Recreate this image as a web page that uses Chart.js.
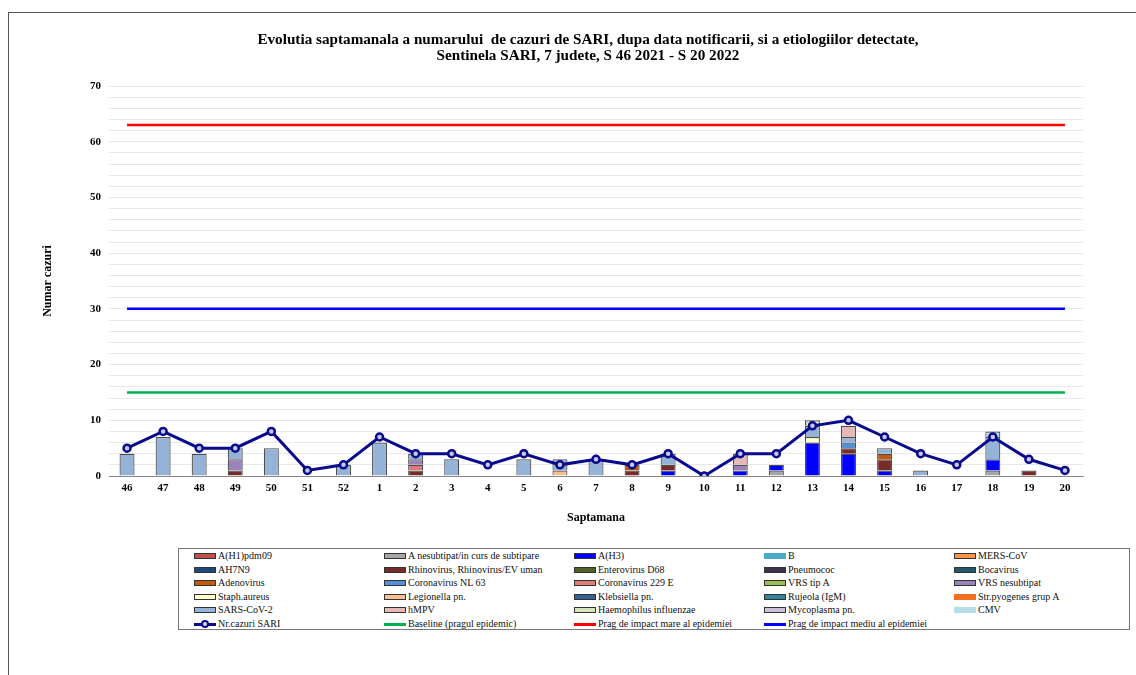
<!DOCTYPE html>
<html lang="ro">
<head>
<meta charset="UTF-8">
<title>SARI - evolutie saptamanala</title>
<script src="https://cdn.jsdelivr.net/npm/chart.js@4.4.0/dist/chart.umd.min.js"></script>
<style>
  body { margin: 0; background: #fff; font-family: "Liberation Serif", "Times New Roman", serif; }
  #frame { position: absolute; left: 8px; top: 12px; width: 1140px; height: 700px; border: 1px solid #555; }
  #title { position: absolute; left: 0; top: 31px; width: 1176px; text-align: center; font-size: 15.2px; font-weight: bold; line-height: 16.3px; color: #000; }
  #wrap { position: absolute; left: 0; top: 0; width: 1136px; height: 540px; }
  #legend { position: absolute; left: 178px; top: 548px; width: 952px; height: 82px; border: 1px solid #777; box-sizing: border-box; }
  .item { position: absolute; font-size: 10px; line-height: 12px; white-space: nowrap; color: #111; }
  .sw { position: absolute; left: 0; top: 3px; width: 20px; height: 4px; border: 1px solid #333; }
  .ln { position: absolute; left: 0; top: 5px; width: 22px; height: 3px; }
  .dot { position: absolute; left: 7px; top: 2px; width: 4px; height: 4px; border: 2px solid #0a0a8c; border-radius: 50%; background: #dde; }
  .tx { position: absolute; left: 24px; top: 0; }
</style>
</head>
<body>
<div id="frame"></div>
<div id="wrap"><canvas id="canvas"></canvas></div>
<div id="title">Evolutia saptamanala a numarului&nbsp; de cazuri de SARI, dupa data notificarii, si a etiologiilor detectate,<br>Sentinela SARI, 7 judete, S 46 2021 - S 20 2022</div>
<div id="legend"></div>
<script>
// saptamani S46 2021 - S20 2022
const weeks = ['46','47','48','49','50','51','52','1','2','3','4','5','6','7','8','9','10','11','12','13','14','15','16','17','18','19','20'];

// numar total cazuri SARI (linia)
const nrCazuriSari = [5,8,5,5,8,1,2,7,4,4,2,4,2,3,2,4,0,4,4,9,10,7,4,2,7,3,1];

// praguri
const baseline    = [15,15,15,15,15,15,15,15,15,15,15,15,15,15,15,15,15,15,15,15,15,15,15,15,15,15,15];
const pragMare    = [63,63,63,63,63,63,63,63,63,63,63,63,63,63,63,63,63,63,63,63,63,63,63,63,63,63,63];
const pragMediu   = [30,30,30,30,30,30,30,30,30,30,30,30,30,30,30,30,30,30,30,30,30,30,30,30,30,30,30];

// etiologii detectate
const aH1pdm09        = [0,0,0,0,0,0,0,0,0,0,0,0,0,0,0,0,0,0,0,0,0,0,0,0,0,0,0];
const aNesubtipat     = [0,0,0,0,0,0,0,0,0,0,0,0,0,0,0,0,0,0,1,0,0,0,0,0,1,0,0];
const aH3             = [0,0,0,0,0,0,0,0,0,0,0,0,0,0,0,1,0,1,1,6,4,1,0,0,2,0,0];
const gripaB          = [0,0,0,0,0,0,0,0,0,0,0,0,0,0,0,0,0,0,0,0,0,0,0,0,0,0,0];
const mersCov         = [0,0,0,0,0,0,0,0,0,0,0,0,0,0,0,0,0,0,0,0,0,0,0,0,0,0,0];
const aH7N9           = [0,0,0,0,0,0,0,0,0,0,0,0,0,0,0,0,0,0,0,0,0,0,0,0,0,0,0];
const rhinovirus      = [0,0,0,1,0,0,0,0,1,0,0,0,0,0,1,1,0,0,0,0,1,2,0,0,0,1,0];
const enterovirusD68  = [0,0,0,0,0,0,0,0,0,0,0,0,0,0,0,0,0,0,0,0,0,0,0,0,0,0,0];
const pneumococ       = [0,0,0,0,0,0,0,0,0,0,0,0,0,0,0,0,0,0,0,0,0,0,0,0,0,0,0];
const bocavirus       = [0,0,0,0,0,0,0,0,0,0,0,0,0,0,0,0,0,0,0,0,0,0,0,0,0,0,0];
const adenovirus      = [0,0,0,0,0,0,0,0,0,0,0,0,0,0,1,0,0,0,0,0,0,1,0,0,0,0,0];
const coronavirusNL63 = [0,0,0,0,0,0,0,0,0,0,0,0,0,0,0,0,0,0,0,0,1,0,0,0,0,0,0];
const coronavirus229E = [0,0,0,0,0,0,0,0,1,0,0,0,0,0,0,0,0,0,0,0,0,0,0,0,0,0,0];
const vrsTipA         = [0,0,0,0,0,0,0,0,0,0,0,0,0,0,0,0,0,0,0,0,0,0,0,0,0,0,0];
const vrsNesubtipat   = [0,0,0,2,0,0,0,0,1,0,0,0,0,0,0,0,0,1,0,0,0,0,0,0,0,0,0];
const staphAureus     = [0,0,0,0,0,0,0,0,0,0,0,0,0,0,0,0,0,0,0,1,0,0,0,0,0,0,0];
const legionella      = [0,0,0,0,0,0,0,0,0,0,0,0,1,0,0,0,0,0,0,0,0,0,0,0,0,0,0];
const klebsiella      = [0,0,0,0,0,0,0,0,0,0,0,0,0,0,0,0,0,0,0,0,0,0,0,0,0,0,0];
const rujeola         = [0,0,0,0,0,0,0,0,0,0,0,0,0,0,0,0,0,0,0,0,0,0,0,0,0,0,0];
const strPyogenes     = [0,0,0,0,0,0,0,0,0,0,0,0,0,0,0,0,0,0,0,0,0,0,0,0,0,0,0];
const sarsCov2        = [4,7,4,2,5,0,2,6,1,3,0,3,2,3,0,2,0,0,0,2,1,1,1,0,4,0,0];
const hMPV            = [0,0,0,0,0,0,0,0,0,0,0,0,0,0,0,0,0,2,0,0,2,0,0,0,0,0,0];
const haemophilus     = [0,0,0,0,0,0,0,0,0,0,0,0,0,0,0,0,0,0,0,1,0,0,0,0,0,0,0];
const mycoplasma      = [0,0,0,0,0,0,0,0,0,0,0,0,0,0,0,0,0,0,0,0,0,0,0,0,0,0,0];
const cmv             = [0,0,0,0,0,0,0,0,0,0,0,0,0,0,0,0,0,0,0,0,0,0,0,0,1,0,0];

const etiologyNames = ['A(H1)pdm09','A nesubtipat/in curs de subtipare','A(H3)','B','MERS-CoV',
  'AH7N9','Rhinovirus, Rhinovirus/EV uman','Enterovirus D68','Pneumococ','Bocavirus',
  'Adenovirus','Coronavirus NL 63','Coronavirus 229 E','VRS tip A','VRS nesubtipat',
  'Staph.aureus','Legionella pn.','Klebsiella pn.','Rujeola (IgM)','Str.pyogenes grup A',
  'SARS-CoV-2','hMPV','Haemophilus influenzae','Mycoplasma pn.','CMV'];
const etiologyData = [aH1pdm09, aNesubtipat, aH3, gripaB, mersCov,
  aH7N9, rhinovirus, enterovirusD68, pneumococ, bocavirus,
  adenovirus, coronavirusNL63, coronavirus229E, vrsTipA, vrsNesubtipat,
  staphAureus, legionella, klebsiella, rujeola, strPyogenes,
  sarsCov2, hMPV, haemophilus, mycoplasma, cmv];
const etiologyColors = ['#c0504d','#a6a6a6','#0000ff','#4bacc6','#f79646',
  '#1f497d','#772c2a','#4f6228','#403151','#215968',
  '#c0580e','#558ed5','#e07a78','#9bbb59','#9a83bb',
  '#ffffcc','#fac090','#376092','#31859c','#f07020',
  '#95b3d7','#e6b9b8','#d7e4bc','#ccc1da','#b7dee8'];
const noBorder = ['B','Str.pyogenes grup A','CMV'];

const serif = 'Liberation Serif';

let datasets = [];
for (let i = 0; i < etiologyNames.length; i++) {
  datasets.push({
    type: 'bar',
    label: etiologyNames[i],
    data: etiologyData[i],
    backgroundColor: etiologyColors[i],
    borderColor: '#4d4d4d',
    borderWidth: 1.2,
    stack: 'bars',
    order: 5,
    categoryPercentage: 0.8,
    barPercentage: 0.52
  });
}
datasets.push({ type: 'line', label: 'Baseline (pragul epidemic)', data: baseline, borderColor: '#00b050', borderWidth: 2.5, pointRadius: 0, stack: 'l1', order: 2 });
datasets.push({ type: 'line', label: 'Prag de impact mare al epidemiei', data: pragMare, borderColor: '#ff0000', borderWidth: 2.5, pointRadius: 0, stack: 'l2', order: 2 });
datasets.push({ type: 'line', label: 'Prag de impact mediu al epidemiei', data: pragMediu, borderColor: '#0000ff', borderWidth: 2.5, pointRadius: 0, stack: 'l3', order: 2 });
datasets.push({ type: 'line', label: 'Nr.cazuri SARI', data: nrCazuriSari, borderColor: '#0a0a8c', borderWidth: 3,
  pointRadius: 3.5, pointBorderWidth: 2.5, pointBackgroundColor: '#c8c8e8', pointBorderColor: '#0a0a8c', stack: 'l4', order: 0 });

const chart1 = new Chart(document.getElementById('canvas'), {
  data: { labels: weeks, datasets: datasets },
  options: {
    responsive: true,
    maintainAspectRatio: false,
    animation: false,
    layout: { padding: { left: 36, right: 53, top: 86, bottom: 11 } },
    plugins: {
      legend: { display: false },
      tooltip: { enabled: false }
    },
    scales: {
      x: {
        stacked: true,
        grid: { display: false, drawTicks: false },
        border: { display: true, color: '#888', width: 1 },
        ticks: { color: '#000', font: { family: serif, size: 11, weight: 'bold' }, padding: 6, autoSkip: false, maxRotation: 0 },
        title: { display: true, text: 'Saptamana', color: '#000', font: { family: serif, size: 12, weight: 'bold' }, padding: { top: 0, bottom: 4 } },
        afterFit: function (s) { s.height = 53; }
      },
      y: {
        stacked: true,
        min: 0,
        max: 70,
        grid: { color: '#e8e8e8', drawTicks: false },
        border: { display: false },
        ticks: {
          stepSize: 2, autoSkip: false, padding: 8, color: '#000',
          font: { family: serif, size: 11, weight: 'bold' },
          callback: function (v) { return v % 10 === 0 ? v : ''; }
        },
        title: { display: true, text: 'Numar cazuri', color: '#000', font: { family: serif, size: 12, weight: 'bold' }, padding: { top: 5, bottom: 0 } },
        afterFit: function (s) { s.width = 73; }
      }
    }
  }
});

// legenda in 5 coloane
const legendEl = document.getElementById('legend');
const colX = [15, 205, 395, 585, 775];
let items = etiologyNames.map(function (n, i) { return { name: n, color: etiologyColors[i], kind: 'bar' }; });
items.push({ name: 'Nr.cazuri SARI', color: '#0a0a8c', kind: 'sari' });
items.push({ name: 'Baseline (pragul epidemic)', color: '#00b050', kind: 'line' });
items.push({ name: 'Prag de impact mare al epidemiei', color: '#ff0000', kind: 'line' });
items.push({ name: 'Prag de impact mediu al epidemiei', color: '#0000ff', kind: 'line' });
items.forEach(function (it, i) {
  const d = document.createElement('div');
  d.className = 'item';
  d.style.left = colX[i % 5] + 'px';
  d.style.top = (1 + Math.floor(i / 5) * 13.6) + 'px';
  let sw;
  if (it.kind === 'bar') {
    sw = '<div class="sw" style="background:' + it.color + ';' + (noBorder.indexOf(it.name) >= 0 ? 'border-color:' + it.color : '') + '"></div>';
  } else if (it.kind === 'sari') {
    sw = '<div class="ln" style="background:' + it.color + '"></div><div class="dot"></div>';
  } else {
    sw = '<div class="ln" style="background:' + it.color + '"></div>';
  }
  d.innerHTML = sw + '<span class="tx">' + it.name + '</span>';
  legendEl.appendChild(d);
});
</script>
</body>
</html>
